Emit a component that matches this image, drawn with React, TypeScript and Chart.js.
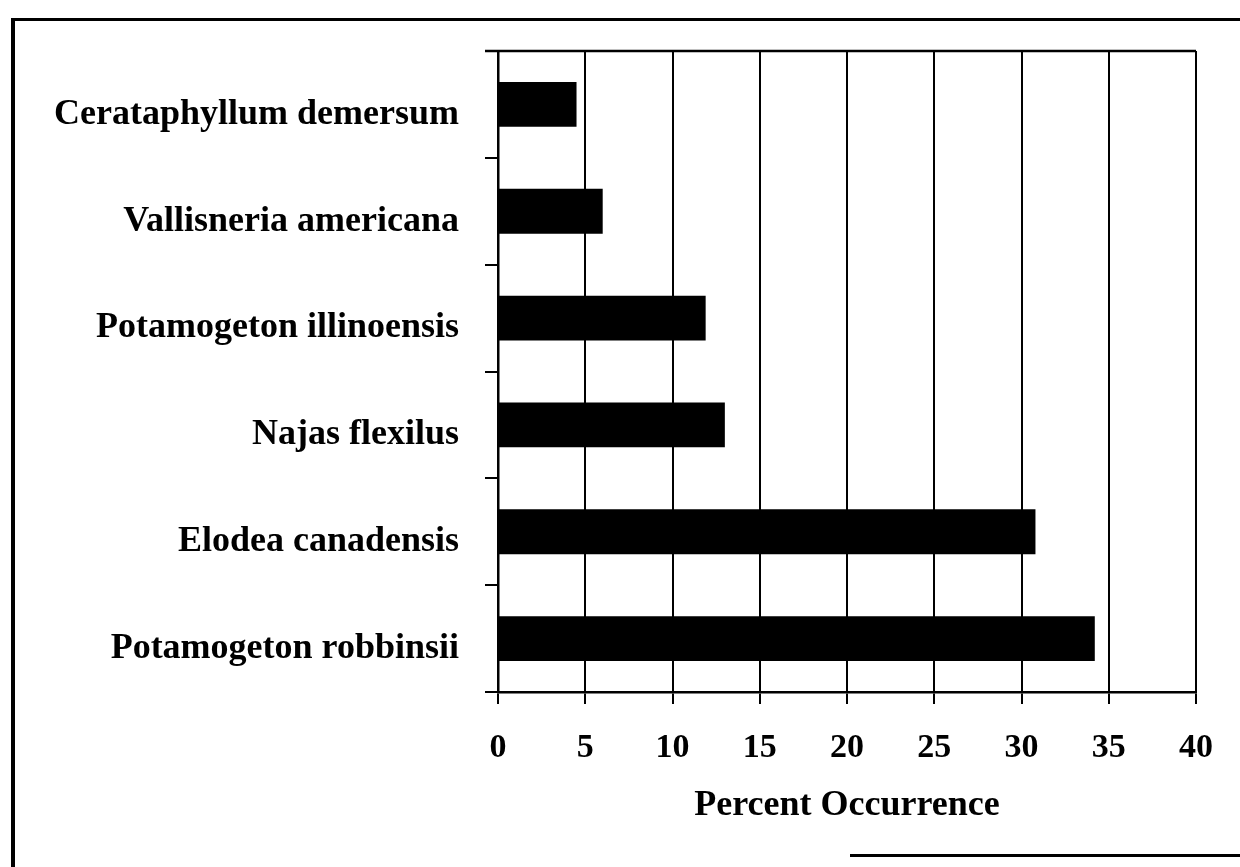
import React, { useEffect, useRef } from "react";
import { Chart, registerables } from "chart.js";

Chart.register(...registerables);

const species = [
  "Cerataphyllum demersum",
  "Vallisneria americana",
  "Potamogeton illinoensis",
  "Najas flexilus",
  "Elodea canadensis",
  "Potamogeton robbinsii",
];
const percentOccurrence = [4.5, 6.0, 11.9, 13.0, 30.8, 34.2];
const xTicks = [0, 5, 10, 15, 20, 25, 30, 35, 40];
const xTitle = "Percent Occurrence";

const FONT = "'Liberation Serif', 'Times New Roman', serif";

const topBorder = {
  id: "topBorder",
  afterDraw(chart: any) {
    const { ctx, chartArea } = chart;
    ctx.save();
    ctx.strokeStyle = "#000";
    ctx.lineWidth = 2.5;
    ctx.beginPath();
    ctx.moveTo(chartArea.left - 13, chartArea.top);
    ctx.lineTo(chartArea.right, chartArea.top);
    ctx.stroke();
    ctx.restore();
  },
};

export default function App() {
  const ref = useRef<HTMLCanvasElement>(null);

  useEffect(() => {
    if (!ref.current) return;
    const chart = new Chart(ref.current, {
      type: "bar",
      data: {
        labels: species,
        datasets: [
          {
            data: percentOccurrence,
            backgroundColor: "#000",
            borderWidth: 0,
            categoryPercentage: 1,
            barPercentage: 0.42,
          },
        ],
      },
      options: {
        indexAxis: "y",
        animation: false,
        responsive: false,
        maintainAspectRatio: false,
        layout: { padding: { top: 51, right: 44, bottom: 0, left: 0 } },
        plugins: {
          legend: { display: false },
          tooltip: { enabled: false },
        },
        scales: {
          x: {
            min: 0,
            max: 40,
            afterBuildTicks: (scale: any) => {
              scale.ticks = xTicks.map((v) => ({ value: v }));
            },
            afterFit: (scale: any) => {
              scale.height = 175;
            },
            grid: {
              color: "#000",
              lineWidth: 2,
              tickLength: 12,
              drawTicks: true,
            },
            border: { display: true, color: "#000", width: 2.5 },
            ticks: {
              color: "#000",
              font: { family: FONT, size: 34, weight: "bold" },
              padding: 24,
              maxRotation: 0,
            },
            title: {
              display: true,
              text: xTitle,
              color: "#000",
              font: { family: FONT, size: 36, weight: "bold" },
              padding: { top: 0, bottom: 40 },
            },
          },
          y: {
            afterFit: (scale: any) => {
              scale.width = 498;
            },
            grid: {
              offset: true,
              drawOnChartArea: false,
              color: "#000",
              lineWidth: 2,
              tickLength: 13,
            },
            border: { display: true, color: "#000", width: 2.5 },
            ticks: {
              color: "#000",
              font: { family: FONT, size: 36, weight: "bold" },
              padding: 26,
              labelOffset: 10,
            },
          },
        },
      },
      plugins: [topBorder],
    });
    return () => chart.destroy();
  }, []);

  return (
    <div
      style={{
        position: "fixed",
        left: 0,
        top: 0,
        width: 1240,
        height: 867,
        background: "#fff",
      }}
    >
      <canvas
        ref={ref}
        width={1240}
        height={867}
        style={{ position: "absolute", left: 0, top: 0, width: 1240, height: 867 }}
      />
      <div
        style={{
          position: "absolute",
          left: 11,
          top: 18,
          width: 1229,
          height: 849,
          borderLeft: "4px solid #000",
          borderTop: "3px solid #000",
          boxSizing: "border-box",
          pointerEvents: "none",
        }}
      />
      <div
        style={{
          position: "absolute",
          left: 850,
          top: 854,
          width: 390,
          height: 3,
          background: "#000",
          pointerEvents: "none",
        }}
      />
    </div>
  );
}
